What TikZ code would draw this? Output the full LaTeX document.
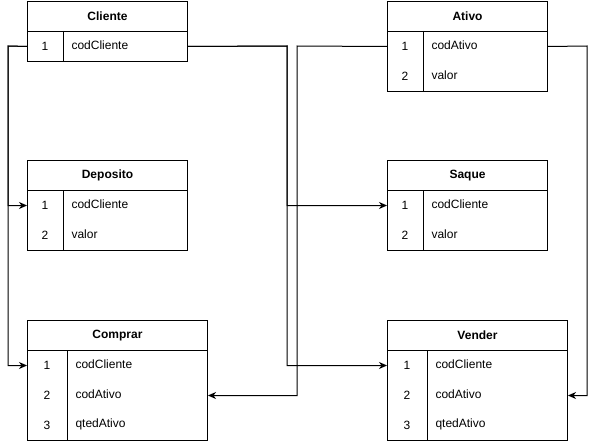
\documentclass[tikz,border=0pt]{standalone}
\usepackage{fontspec}
\setmainfont{Liberation Sans}
\usetikzlibrary{arrows.meta}
\begin{document}
\begin{tikzpicture}[x=1pt,y=-1pt,line width=1pt,
  hdr/.style={draw,anchor=north west,minimum height=30pt,inner sep=0pt,font=\fontsize{12}{14}\selectfont\bfseries},
  bodybox/.style={draw,anchor=north west,inner sep=0pt},
  rowbox/.style={anchor=north west,minimum height=30pt,inner sep=0pt},
  keytxt/.style={font=\fontsize{12}{14}\selectfont,inner sep=0pt},
  fieldtxt/.style={font=\fontsize{12}{14}\selectfont,anchor=west,inner sep=0pt},
  arr/.style={-{Stealth[length=8pt,width=7pt,inset=2.5pt]},line join=miter}]
\useasboundingbox (0,0) rectangle (596,441);

% Cliente
\node[hdr,minimum width=160pt] (cli) at (27,1) {Cliente};
\node[bodybox,minimum width=160pt,minimum height=30pt] (clib) at (27,31) {};
\draw (63,31) -- (63,61);
\node[rowbox,minimum width=160pt] (cli1) at (27,31) {};
\node[keytxt] (cli1k) at (45,46) {1};
\node[fieldtxt] (cli1f) at (71,45) {codCliente};

% Ativo
\node[hdr,minimum width=160pt] (ati) at (387,1) {Ativo};
\node[bodybox,minimum width=160pt,minimum height=60pt] (atib) at (387,31) {};
\draw (423,31) -- (423,91);
\node[rowbox,minimum width=160pt] (ati1) at (387,31) {};
\node[rowbox,minimum width=160pt] (ati2) at (387,61) {};
\node[keytxt] (ati1k) at (405,46) {1};
\node[fieldtxt] (ati1f) at (431,45) {codAtivo};
\node[keytxt] (ati2k) at (405,76) {2};
\node[fieldtxt] (ati2f) at (431,75) {valor};

% Deposito
\node[hdr,minimum width=160pt] (dep) at (27,160) {Deposito};
\node[bodybox,minimum width=160pt,minimum height=60pt] (depb) at (27,190) {};
\draw (63,190) -- (63,250);
\node[rowbox,minimum width=160pt] (dep1) at (27,190) {};
\node[rowbox,minimum width=160pt] (dep2) at (27,220) {};
\node[keytxt] (dep1k) at (45,205) {1};
\node[fieldtxt] (dep1f) at (71,204) {codCliente};
\node[keytxt] (dep2k) at (45,235) {2};
\node[fieldtxt] (dep2f) at (71,234) {valor};

% Saque
\node[hdr,minimum width=160pt] (saq) at (387,160) {Saque};
\node[bodybox,minimum width=160pt,minimum height=60pt] (saqb) at (387,190) {};
\draw (423,190) -- (423,250);
\node[rowbox,minimum width=160pt] (saq1) at (387,190) {};
\node[rowbox,minimum width=160pt] (saq2) at (387,220) {};
\node[keytxt] (saq1k) at (405,205) {1};
\node[fieldtxt] (saq1f) at (431,204) {codCliente};
\node[keytxt] (saq2k) at (405,235) {2};
\node[fieldtxt] (saq2f) at (431,234) {valor};

% Comprar
\node[hdr,minimum width=180pt] (com) at (27,320) {Comprar};
\node[bodybox,minimum width=180pt,minimum height=90pt] (comb) at (27,350) {};
\draw (67,350) -- (67,440);
\node[rowbox,minimum width=180pt] (com1) at (27,350) {};
\node[rowbox,minimum width=180pt] (com2) at (27,380) {};
\node[rowbox,minimum width=180pt] (com3) at (27,410) {};
\node[keytxt] (com1k) at (47,365) {1};
\node[fieldtxt] (com1f) at (75,364) {codCliente};
\node[keytxt] (com2k) at (47,395) {2};
\node[fieldtxt] (com2f) at (75,394) {codAtivo};
\node[keytxt] (com3k) at (47,425) {3};
\node[fieldtxt] (com3f) at (75,424) {qtedAtivo};

% Vender
\node[hdr,minimum width=180pt] (ven) at (387,320) {Vender};
\node[bodybox,minimum width=180pt,minimum height=90pt] (venb) at (387,350) {};
\draw (427,350) -- (427,440);
\node[rowbox,minimum width=180pt] (ven1) at (387,350) {};
\node[rowbox,minimum width=180pt] (ven2) at (387,380) {};
\node[rowbox,minimum width=180pt] (ven3) at (387,410) {};
\node[keytxt] (ven1k) at (407,365) {1};
\node[fieldtxt] (ven1f) at (435,364) {codCliente};
\node[keytxt] (ven2k) at (407,395) {2};
\node[fieldtxt] (ven2f) at (435,394) {codAtivo};
\node[keytxt] (ven3k) at (407,425) {3};
\node[fieldtxt] (ven3f) at (435,424) {qtedAtivo};

% connectors
\coordinate (cl) at (8,46);
\coordinate (cr) at (287,46);
\coordinate (al) at (297,46);
\coordinate (ar) at (587,46);
\draw[arr] (cli1.west) -- (cl) |- (dep1.west);
\draw[arr] (cli1.west) -- (cl) |- (com1.west);
\draw[arr] (cli1.east) -- (cr) |- (saq1.west);
\draw[arr] (cli1.east) -- (cr) |- (ven1.west);
\draw[arr] (ati1.west) -- (al) |- (com2.east);
\draw[arr] (ati1.east) -- (ar) |- (ven2.east);
\end{tikzpicture}
\end{document}
